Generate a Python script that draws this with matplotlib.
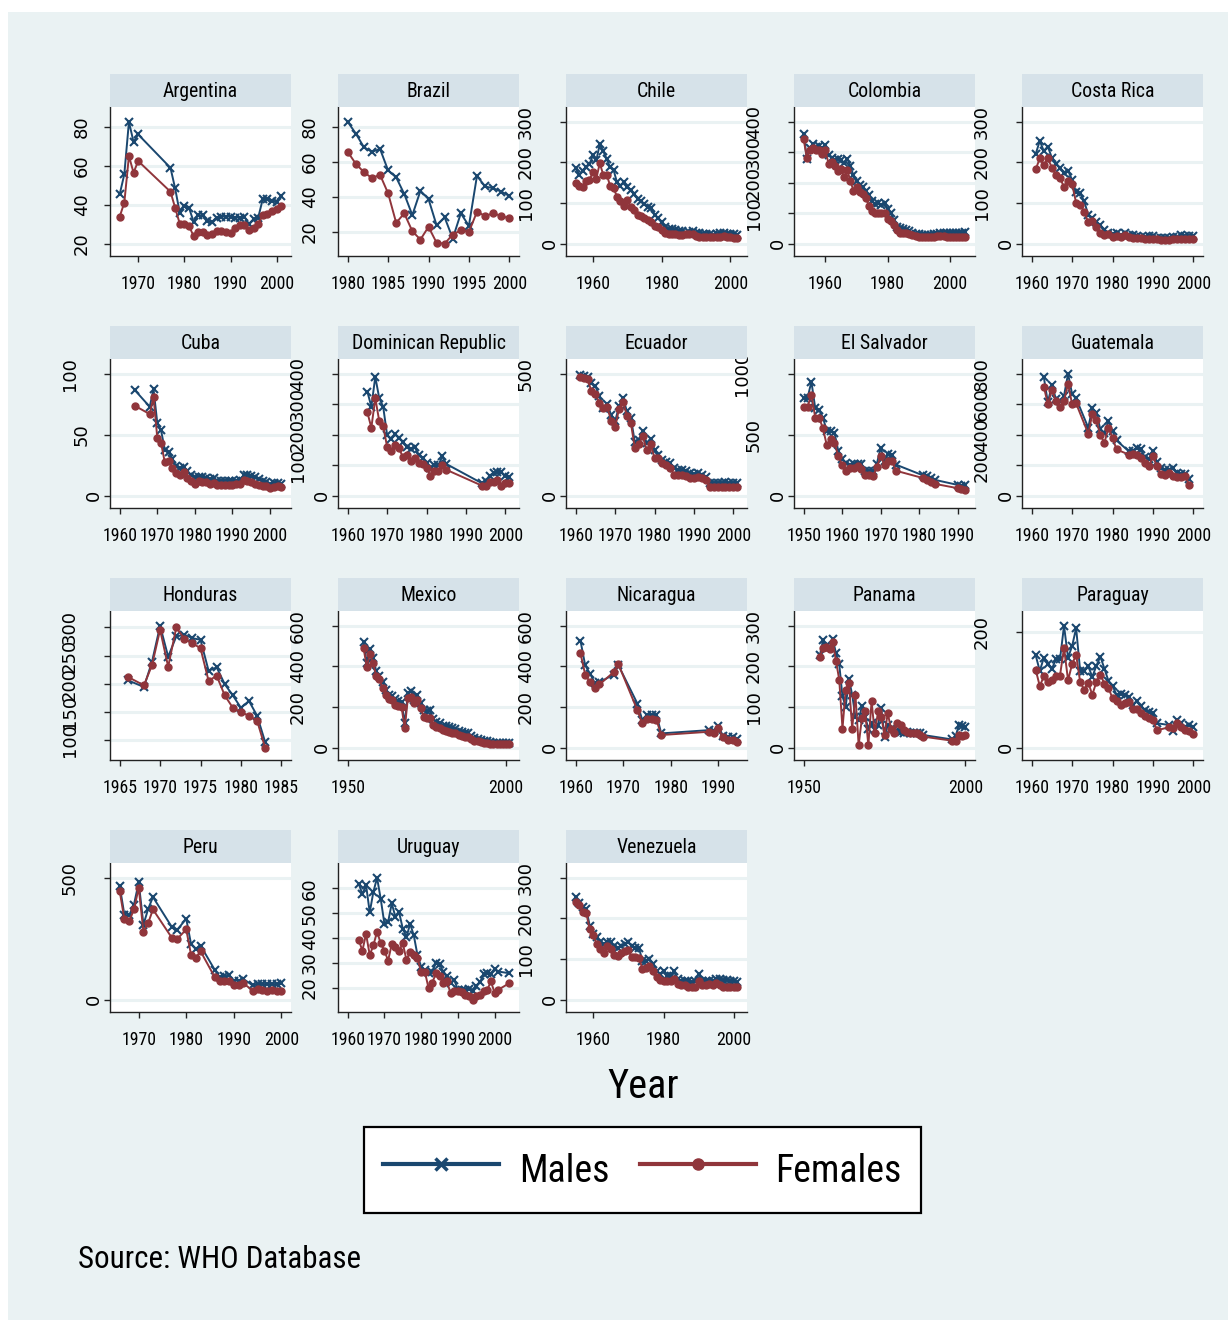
import os
import matplotlib
matplotlib.use('Agg')
import matplotlib.pyplot as plt
from matplotlib.patches import Rectangle
from matplotlib.lines import Line2D
import matplotlib.transforms as mtransforms
from matplotlib import font_manager as fm
from matplotlib.font_manager import FontProperties
from matplotlib.textpath import TextPath

# ---------------- data ----------------
countries = ['Argentina', 'Brazil', 'Chile', 'Colombia', 'Costa Rica',
             'Cuba', 'Dominican Republic', 'Ecuador', 'El Salvador', 'Guatemala',
             'Honduras', 'Mexico', 'Nicaragua', 'Panama', 'Paraguay',
             'Peru', 'Uruguay', 'Venezuela']

ARG_years = [1966, 1967, 1968, 1969, 1970, 1977, 1978] + list(range(1979, 2002))
ARG_m = [45.4, 55.7, 82.7, 72.3, 76.2, 59, 48.5, 36, 39.4, 38.5, 31.3, 34.6, 34.6, 31.7, 31, 33.4,
         33.9, 33.9, 33.9, 33.4, 33.4, 33.9, 30, 32.5, 33.4, 43.1, 43.1, 42, 41.6, 44.3]
ARG_f = [33.9, 41.1, 65.1, 56.5, 62.5, 46.7, 38.5, 30.3, 30, 29.1, 23.9, 26.2, 26.2, 24.3, 25.1, 26.5,
         26.5, 26.2, 25.7, 28.2, 29.6, 29.6, 26.9, 28.2, 30, 34.7, 35.4, 36.8, 37.7, 39.4]

BRA_years = list(range(1980, 2001))
BRA_m = [83, 76.3, 68.5, 65.8, 67.5, 55.2, 51.2, 41.7, 29.6, 43.5, 38.8, 23.8, 28.3, 16.2, 30.6, 23.5,
         52.1, 46, 45, 43.1, 40.6]
BRA_f = [65.8, 59, 54.2, 50.8, 52.7, 42.1, 25.2, 30.6, 20.4, 15.6, 22.9, 13.8, 13.3, 18.5, 21, 20,
         31.5, 29.2, 30.6, 29.2, 27.7]

CHL_years = list(range(1955, 2003))
CHL_m = [186, 170, 180, 188, 195, 218, 205, 245, 228, 209,
         188, 182, 151, 143, 151, 140, 131, 122, 110, 104,
         98, 89, 88, 71, 62, 52, 41, 36, 36, 33,
         30, 30, 27, 29, 30, 26, 25, 23, 23, 23,
         21, 23, 25, 25, 24, 24, 23, 21]
CHL_f = [150, 143, 139, 155, 157, 176, 160, 198, 170, 170,
         143, 137, 116, 106, 93, 107, 89, 83, 71, 69,
         64, 59, 52, 44, 40, 34, 25, 23, 23, 23,
         21, 21, 23, 23, 23, 19, 17, 17, 17, 17,
         17, 17, 17, 19, 17, 16, 15, 13]

COL_years = list(range(1953, 2006))
COL_m = [361, 279, 315, 326, 317, 320, 315, 323, 290, 282,
         275, 279, 275, 264, 279, 256, 224, 207, 194, 185,
         172, 158, 139, 130, 132, 127, 132, 113, 102, 77,
         53, 51, 48, 45, 40, 34, 31, 31, 29, 29,
         29, 28, 30, 33, 35, 35, 35, 35, 35, 35,
         34, 34, 37]
COL_f = [342, 282, 306, 315, 306, 309, 295, 306, 262, 267,
         256, 240, 245, 220, 242, 207, 174, 187, 168, 163,
         150, 124, 108, 102, 102, 102, 99, 80, 75, 62,
         44, 36, 36, 34, 31, 28, 24, 23, 23, 23,
         22, 22, 23, 25, 24, 24, 23, 23, 23, 23,
         23, 23, 23]

CRI_years = list(range(1961, 2001))
CRI_m = [221, 253, 228, 239, 211, 197, 187, 174, 180, 157,
         126, 124, 104, 71, 64, 52, 46, 33, 27, 23,
         25, 21, 25, 21, 21, 19, 17, 17, 19, 19,
         15, 15, 15, 15, 17, 17, 21, 19, 19, 18]
CRI_f = [183, 210, 193, 210, 187, 169, 162, 139, 155, 147,
         100, 95, 79, 52, 56, 40, 27, 21, 23, 17,
         19, 17, 21, 17, 15, 15, 13, 11, 12, 12,
         11, 8, 9, 9, 11, 11, 11, 11, 11, 11]

CUB_years = [1964, 1968] + list(range(1969, 2004))
CUB_m = [86.7, 72.9, 87.6, 59.7, 53.6, 37.8, 35.9, 30.4, 24, 22.6, 23.5, 20.4,
         16.6, 14.9, 15.2, 15.2, 14.4, 13.8, 14.4, 12.4, 12.2, 12.2,
         12.2, 12.2, 12.4, 13, 16.6, 17.1, 15.7, 15.2, 13.8, 12.2,
         11, 9.7, 10.2, 10.2, 9.7]
CUB_f = [73.8, 66.9, 81.2, 47.5, 43.4, 27.3, 28.7, 22.6, 18.5, 16.6, 19.3, 14.4,
         11.6, 9.4, 12.2, 10.8, 10.8, 9.4, 10.2, 8.8, 8.8, 8.8,
         8.8, 8.8, 9.4, 9.7, 13, 12.2, 11, 9.7, 8.8, 7.5,
         7.5, 6.1, 6.9, 7.5, 6.9]

DOM_years = list(range(1965, 1986)) + list(range(1994, 2002))
DOM_m = [341, 292, 390, 320, 292, 199, 185, 201, 190, 177, 160, 152, 160, 135, 124, 107, 91, 99, 99,
         129, 104, 41, 48, 66, 74, 77, 77, 63, 60]
DOM_f = [273, 223, 320, 245, 229, 160, 146, 166, 155, 127, 135, 113, 124, 107, 104, 91, 66, 80, 80,
         102, 85, 33, 33, 44, 44, 50, 33, 41, 41]

ECU_years = list(range(1961, 2002))
ECU_m = [497, 490, 486, 463, 449, 408, 360, 374, 332, 305,
         367, 401, 346, 319, 220, 229, 266, 216, 234, 188,
         168, 147, 140, 133, 113, 106, 106, 99, 92, 88,
         92, 85, 78, 51, 51, 51, 51, 54, 51, 51, 51]
ECU_f = [486, 481, 477, 429, 418, 381, 360, 363, 308, 280,
         357, 385, 328, 298, 195, 212, 243, 188, 212, 154,
         154, 133, 126, 113, 85, 85, 85, 82, 74, 71,
         78, 71, 65, 37, 37, 37, 37, 34, 34, 37, 34]

SLV_years = list(range(1950, 1975)) + [1981, 1982, 1983, 1984, 1990, 1991, 1992]
SLV_m = [801, 801, 936, 718, 702, 641, 530, 530, 517, 365,
         304, 268, 254, 260, 260, 260, 204, 199, 199, 260,
         392, 287, 343, 331, 254, 166, 157, 144, 130, 88, 83, 88]
SLV_f = [729, 729, 829, 641, 641, 552, 414, 461, 434, 323,
         254, 199, 227, 227, 240, 221, 171, 166, 157, 232,
         323, 254, 287, 282, 204, 144, 130, 110, 97, 61, 52, 47]

GTM_years = list(range(1963, 1972)) + list(range(1974, 1982)) + list(range(1984, 2000))
GTM_m = [778, 612, 727, 634, 623, 656, 800, 667, 638,
         446, 574, 545, 435, 413, 490, 424, 362,
         292, 296, 314, 303, 252, 243, 292, 221, 181, 170, 170, 181, 148, 141, 141, 110]
GTM_f = [716, 601, 696, 619, 583, 623, 734, 601, 605,
         407, 534, 495, 398, 347, 446, 380, 303,
         270, 274, 270, 248, 214, 192, 259, 192, 141, 137, 148, 126, 119, 119, 126, 71]

HND_years = [1966] + list(range(1968, 1984))
HND_m = [206, 194, 239, 303, 248, 284, 287, 281, 278, 223, 229, 199, 179, 157, 169, 143, 96]
HND_f = [212, 197, 233, 296, 230, 300, 280, 272, 263, 205, 214, 179, 157, 149, 143, 134, 86]

MEX_years = list(range(1955, 2002))
MEX_m = [520, 419, 488, 443, 377, 352, 322, 286, 261, 253,
         239, 228, 223, 120, 269, 277, 236, 261, 219, 186,
         178, 183, 140, 128, 120, 106, 106, 103, 95, 90,
         83, 78, 73, 70, 57, 45, 42, 37, 33, 32,
         28, 25, 23, 23, 23, 23, 23]
MEX_f = [491, 399, 461, 416, 352, 336, 294, 261, 239, 233,
         211, 203, 199, 95, 244, 249, 219, 236, 194, 153,
         145, 145, 111, 103, 95, 86, 83, 78, 73, 70,
         62, 57, 53, 50, 40, 33, 32, 28, 25, 23,
         20, 20, 20, 20, 20, 20, 20]

NIC_years = [1961, 1962, 1963, 1964, 1965, 1968, 1969, 1973, 1974, 1975, 1976, 1977, 1978,
             1988, 1989, 1990, 1991, 1992, 1993, 1994]
NIC_m = [527, 405, 365, 319, 322, 360, 405, 216, 136, 161, 161, 161, 70, 86, 83, 106, 57, 50, 50, 40]
NIC_f = [465, 360, 322, 294, 311, 372, 410, 183, 120, 140, 140, 136, 62, 78, 73, 95, 50, 37, 37, 28]

PAN_years = list(range(1955, 1988)) + list(range(1996, 2001))
PAN_m = [227, 265, 250, 249, 267, 232, 205, 126, 101, 169,
         130, 76, 68, 102, 76, 47, 60, 43, 55, 97,
         27, 55, 47, 45, 41, 39, 36, 39, 36, 35,
         35, 36, 31, 20, 28, 55, 53, 51]
PAN_f = [224, 246, 249, 244, 259, 213, 167, 47, 143, 159,
         47, 130, 6, 72, 89, 6, 114, 35, 89, 76,
         31, 85, 47, 36, 60, 55, 43, 39, 36, 35,
         36, 31, 27, 17, 17, 31, 28, 31]

PRY_years = list(range(1961, 1992)) + list(range(1994, 2001))
PRY_m = [159, 132, 155, 145, 136, 152, 152, 210, 155, 175,
         206, 132, 132, 140, 122, 141, 157, 136, 115, 107,
         91, 93, 91, 88, 74, 80, 71, 64, 62, 59,
         42, 39, 29, 48, 42, 36, 39, 35]
PRY_f = [134, 106, 123, 113, 116, 123, 124, 172, 116, 144,
         160, 113, 100, 112, 91, 113, 126, 110, 103, 85,
         80, 74, 77, 78, 66, 66, 59, 55, 51, 48,
         30, 35, 34, 42, 36, 30, 29, 24]

PER_years = [1966, 1967, 1968, 1969, 1970, 1971, 1972, 1973, 1977, 1978, 1980, 1981, 1982, 1983,
             1986, 1987, 1988, 1989, 1990, 1991, 1992, 1994, 1995, 1996, 1997, 1998, 1999, 2000]
PER_m = [466, 347, 347, 390, 481, 308, 373, 421, 297, 284, 332, 229, 208, 222,
         122, 92, 95, 99, 78, 78, 85, 58, 64, 64, 64, 64, 64, 67]
PER_f = [445, 329, 322, 370, 459, 278, 315, 370, 253, 247, 288, 185, 171, 199,
         92, 75, 78, 75, 62, 62, 67, 37, 44, 41, 37, 40, 37, 37]

URY_years = list(range(1963, 2002)) + [2004]
URY_m = [62, 57.7, 61.4, 50.4, 58.7, 64.3, 55.7, 45.8, 46.5, 54,
         48.5, 50.4, 43.8, 40.5, 45.8, 41.1, 33.2, 28.5, 27.2, 25.9,
         26.6, 29.9, 29.6, 26.6, 24.8, 21.9, 23.2, 19.3, 19, 19.3,
         19.5, 18.6, 20.6, 22.2, 25.5, 25.9, 25.5, 27.8, 26.6, 25.9]
URY_f = [39.3, 35, 41.7, 33.2, 37.2, 42.6, 37.9, 35, 31, 37.6,
         36.6, 35, 37.9, 31.3, 34.6, 33.2, 31.9, 26.4, 26.6, 20,
         21.9, 25.9, 24.8, 21.9, 22.6, 18, 18.6, 18.6, 18.3, 17.3,
         16.6, 15.3, 16.6, 17.3, 18.6, 19.3, 22.6, 18, 19.3, 21.9]

VEN_years = list(range(1955, 2002))
VEN_m = [252, 237, 227, 223, 182, 162, 153, 141, 137, 141,
         141, 132, 128, 132, 137, 141, 132, 128, 127, 96,
         96, 100, 88, 71, 63, 70, 59, 59, 70, 51,
         47, 47, 45, 43, 45, 63, 47, 47, 47, 47,
         51, 51, 48, 48, 47, 45, 43]
VEN_f = [240, 232, 215, 213, 174, 158, 137, 125, 116, 132,
         125, 111, 108, 114, 119, 121, 104, 106, 103, 76,
         79, 84, 71, 55, 48, 47, 45, 45, 51, 39,
         35, 35, 32, 30, 32, 45, 37, 37, 39, 37,
         40, 35, 32, 32, 30, 30, 32]

years_list = [ARG_years, BRA_years, CHL_years, COL_years, CRI_years, CUB_years, DOM_years,
              ECU_years, SLV_years, GTM_years, HND_years, MEX_years, NIC_years, PAN_years,
              PRY_years, PER_years, URY_years, VEN_years]
males_list = [ARG_m, BRA_m, CHL_m, COL_m, CRI_m, CUB_m, DOM_m, ECU_m, SLV_m, GTM_m, HND_m,
              MEX_m, NIC_m, PAN_m, PRY_m, PER_m, URY_m, VEN_m]
females_list = [ARG_f, BRA_f, CHL_f, COL_f, CRI_f, CUB_f, DOM_f, ECU_f, SLV_f, GTM_f, HND_f,
                MEX_f, NIC_f, PAN_f, PRY_f, PER_f, URY_f, VEN_f]

decades = [1960, 1970, 1980, 1990, 2000]
x_ticks = [[1970, 1980, 1990, 2000], [1980, 1985, 1990, 1995, 2000], [1960, 1980, 2000],
           [1960, 1980, 2000], decades, decades, decades, decades,
           [1950, 1960, 1970, 1980, 1990], decades, [1965, 1970, 1975, 1980, 1985],
           [1950, 2000], [1960, 1970, 1980, 1990], [1950, 2000], decades,
           [1970, 1980, 1990, 2000], decades, [1960, 1980, 2000]]
y_ticks = [[20, 40, 60, 80], [20, 40, 60, 80], [0, 100, 200, 300], [0, 100, 200, 300, 400],
           [0, 100, 200, 300], [0, 50, 100], [0, 100, 200, 300, 400], [0, 500],
           [0, 500, 1000], [0, 200, 400, 600, 800], [100, 150, 200, 250, 300],
           [0, 200, 400, 600], [0, 200, 400, 600], [0, 100, 200, 300], [0, 200],
           [0, 500], [20, 30, 40, 50, 60], [0, 100, 200, 300]]

series_labels = ['Males', 'Females']
x_title = 'Year'
note = 'Source: WHO Database'

# ---------------- style ----------------
W, H = 1230, 1322
BG = '#eaf2f3'
HEAD = '#d6e2e9'
GRID = '#eaf2f3'
NAVY = '#1a476f'
MAROON = '#90353b'


def find_narrow():
    prefs = ['liberationsansnarrow', 'arialnarrow', 'arialn', 'robotocondensed',
             'opensanscondensed', 'notosanscondensed', 'dejavusanscondensed', 'latocondensed']
    bad = ['bold', 'italic', 'oblique', 'light', 'thin', 'black', 'medium', 'semi',
           'extra', 'ultra', 'heavy']
    best, best_rank = None, 99
    for f in fm.fontManager.ttflist:
        b = os.path.basename(f.fname).lower()
        for ch in '-_ ':
            b = b.replace(ch, '')
        if any(k in b for k in bad):
            continue
        for rank, p in enumerate(prefs):
            if b.startswith(p) and rank < best_rank:
                best, best_rank = f.fname, rank
    return best


NARROW_PATH = find_narrow()


def narrow(size):
    if NARROW_PATH:
        return FontProperties(fname=NARROW_PATH, size=size)
    return FontProperties(family=['Liberation Sans', 'DejaVu Sans'], size=size)


def fit_size(s, w_px, h_px, wt=0.6):
    p = narrow(10)
    w10 = TextPath((0, 0), s, size=10, prop=p).get_extents().width * 100 / 72
    cap = TextPath((0, 0), 'H', size=10, prop=p).get_extents().height / 10
    s_w = 10 * w_px / w10
    s_h = h_px / cap * 0.72
    return s_w ** wt * s_h ** (1 - wt)


TICK_SZ = fit_size('1970', 29, 15)
HEAD_SZ = fit_size('Argentina', 68, 16)
YEAR_SZ = fit_size('Year', 66, 33, 0.7)
LEG_SZ = fit_size('Males', 82, 32, 0.8)
SRC_SZ = fit_size(note, 265, 28, 0.8)

fig = plt.figure(figsize=(W / 100, H / 100), dpi=100)
fig.patch.set_facecolor('white')
fig.patches.append(Rectangle((8 / W, 2 / H), (W - 10) / W, (H - 14) / H,
                             transform=fig.transFigure, facecolor=BG,
                             edgecolor='none', zorder=-10))

header_specs = []
for i, name in enumerate(countries):
    r, c = divmod(i, 5)
    left = 110 + 228 * c
    top = 107 + 252 * r
    bottom = 256 + 252 * r
    ax = fig.add_axes([left / W, 1 - bottom / H, 181 / W, (bottom - top) / H])
    ax.set_facecolor('white')
    yrs = years_list[i]
    m = males_list[i]
    f = females_list[i]
    xt = x_ticks[i]
    yt = y_ticks[i]

    ax.plot(yrs, m, color=NAVY, lw=1.4, marker='x', ms=6, mew=1.5, zorder=3)
    ax.plot(yrs, f, color=MAROON, lw=1.4, marker='o', ms=5, mec=MAROON, zorder=4)

    lo_x = min(xt[0], min(yrs)); hi_x = max(xt[-1], max(yrs))
    sx = hi_x - lo_x
    ax.set_xlim(lo_x - 0.06 * sx, hi_x + 0.06 * sx)
    lo_y = min(yt[0], min(m), min(f)); hi_y = max(yt[-1], max(m), max(f))
    sy = hi_y - lo_y
    ax.set_ylim(lo_y - 0.1017 * sy, hi_y + 0.1215 * sy)

    ax.set_xticks(xt)
    ax.set_xticklabels([str(v) for v in xt])
    ax.set_yticks(yt)
    ax.yaxis.grid(True, color=GRID, lw=2.2)
    ax.set_axisbelow(True)
    for s in ['top', 'right']:
        ax.spines[s].set_visible(False)
    for s in ['left', 'bottom']:
        ax.spines[s].set_color('#222222')
        ax.spines[s].set_linewidth(1.0)
    ax.tick_params(axis='x', length=4, width=1, color='#222222', pad=10,
                   labelcolor='black')
    ax.tick_params(axis='y', length=4, width=1, color='#222222', labelleft=False)
    for lab in ax.get_xticklabels():
        lab.set_fontproperties(narrow(TICK_SZ))

    # rotated y labels (Stata-like offset grows with label length)
    for v in yt:
        txt = str(v)
        dx = -(4 + 12 * len(txt)) / 100.0
        tr = (mtransforms.blended_transform_factory(ax.transAxes, ax.transData)
              + mtransforms.ScaledTranslation(dx, 0, fig.dpi_scale_trans))
        ax.text(0, v, txt, transform=tr, rotation=90, ha='center', va='center',
                fontsize=13, family=['DejaVu Sans'], color='black', clip_on=False)
    header_specs.append((name, left, r))

# header strips drawn last (on top)
for name, left, r in header_specs:
    hx = fig.add_axes([left / W, 1 - (107 + 252 * r) / H, 181 / W, 33 / H])
    hx.set_facecolor(HEAD)
    hx.set_xticks([]); hx.set_yticks([])
    for s in hx.spines.values():
        s.set_visible(False)
    hx.text(0.5, 0.47, name, ha='center', va='center', fontproperties=narrow(HEAD_SZ),
            transform=hx.transAxes)

fig.text(643 / W, 1 - 1087 / H, x_title, ha='center', va='center', fontproperties=narrow(YEAR_SZ))

leg_px = LEG_SZ * 100 / 72
handles = [Line2D([], [], color=NAVY, lw=3, marker='x', ms=9, mew=2.5),
           Line2D([], [], color=MAROON, lw=3, marker='o', ms=8)]
leg = fig.legend(handles, series_labels, loc='center', bbox_to_anchor=(642.5 / W, 1 - 1170 / H),
                 ncol=2, frameon=True, fancybox=False, edgecolor='black', framealpha=1,
                 prop=narrow(LEG_SZ), handlelength=116 / leg_px, handletextpad=20 / leg_px,
                 columnspacing=30 / leg_px, borderpad=0.5, handleheight=1.6)
leg.get_frame().set_linewidth(1.6)

fig.text(78 / W, 1 - 1268 / H, note, ha='left', va='baseline', fontproperties=narrow(SRC_SZ))

fig.savefig('out.png', dpi=100, facecolor=fig.get_facecolor())
